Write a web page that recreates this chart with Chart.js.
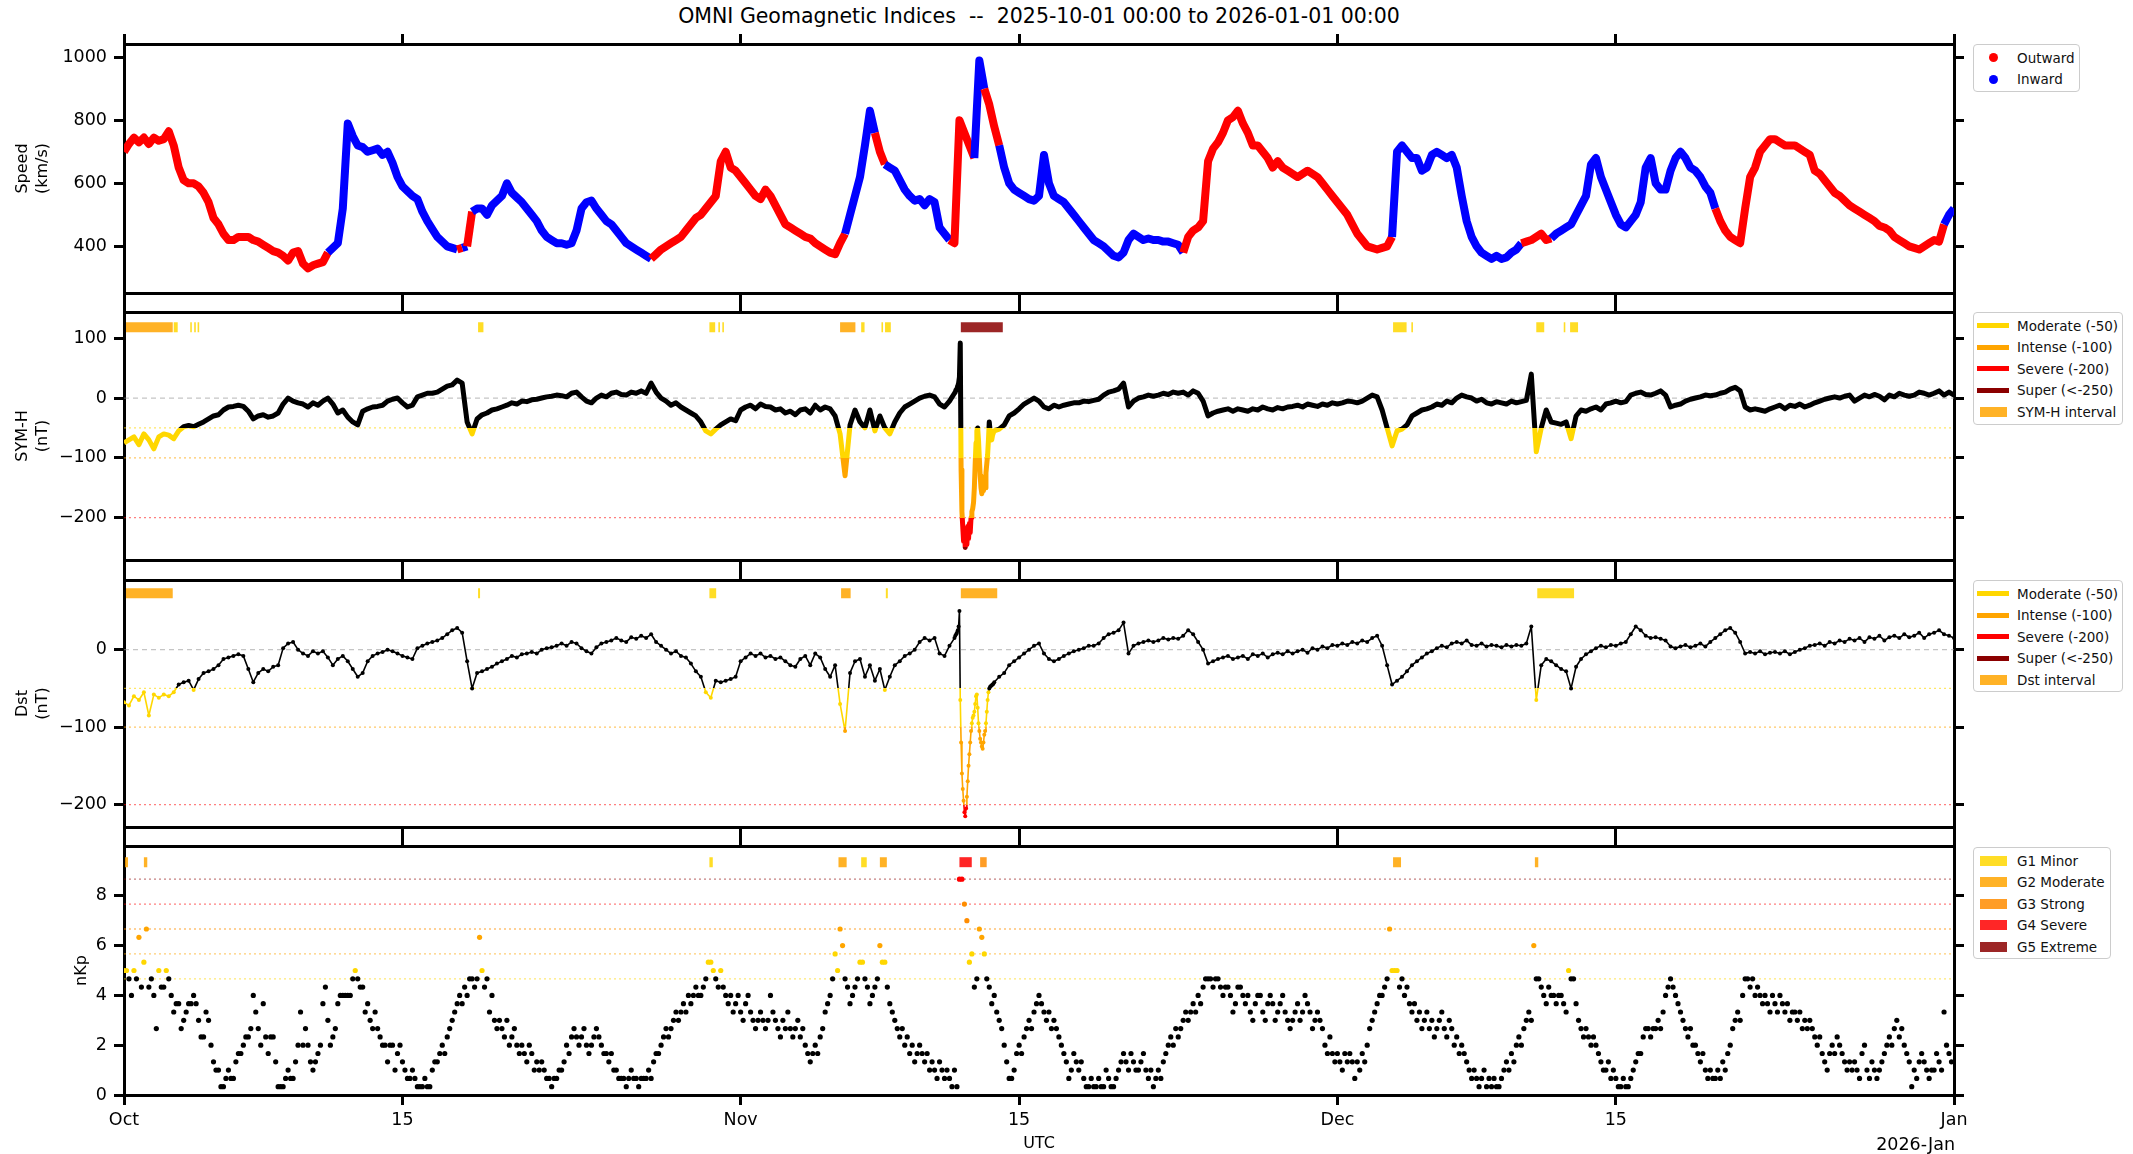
<!DOCTYPE html>
<html><head><meta charset="utf-8">
<script src="https://cdn.jsdelivr.net/npm/chart.js@4/dist/chart.umd.min.js"></script>
<style>
html,body{margin:0;padding:0;background:#fff;}
body{width:2133px;height:1154px;overflow:hidden;position:relative;font-family:"DejaVu Sans",sans-serif;color:#000;}
canvas{position:absolute;left:0;}
#title{position:absolute;left:1039px;top:4px;transform:translateX(-50%);font-size:20.5px;line-height:24px;white-space:pre;}
#yearlbl{position:absolute;right:178px;top:1134px;font-size:17.5px;line-height:20px;white-space:nowrap;}
.lg{position:absolute;left:1973px;border:1px solid #cccccc;border-radius:4px;background:#fff;font-size:13.5px;box-sizing:border-box;}
.row{position:absolute;left:0;height:20px;width:100%;}
.txt{position:absolute;left:43px;top:0;line-height:20px;white-space:nowrap;color:#111;}
.ln{position:absolute;left:3px;width:32px;height:5px;top:7.5px;}
.pt{position:absolute;left:6px;width:27px;height:10px;top:5px;}
.mk{position:absolute;left:15px;width:9px;height:9px;border-radius:50%;top:5.5px;}
</style></head><body>
<div id="title">OMNI Geomagnetic Indices  --  2025-10-01 00:00 to 2026-01-01 00:00</div>
<canvas id="c1"></canvas><canvas id="c2"></canvas><canvas id="c3"></canvas><canvas id="c4"></canvas>
<div id="yearlbl">2026-Jan</div>
<div id="legends"></div>
<script>
// ---------------- DATA ----------------
// time axis: days since 2025-10-01 00:00 UTC
const xTickDays = [0, 14, 31, 45, 61, 75, 92];
const xTickLabels = ['Oct', '15', 'Nov', '15', 'Dec', '15', 'Jan'];
const speedTicks = [400, 600, 800, 1000];
const symhTicks = [-200, -100, 0, 100];
const dstTicks = [-200, -100, 0];
const nkpTicks = [0, 2, 4, 6, 8];

// solar wind speed, km/s, every 6 hours
const speedKms = [
700,725,745,730, 745,725,745,735, 740,765,720,650, 610,600,600,590, 570,540,490,470,
440,420,420,430, 430,430,420,415, 405,395,385,380, 370,355,380,385, 345,330,340,345,
350,380,395,410, 520,790,750,720, 715,700,705,710, 690,700,665,620, 590,575,560,550,
510,480,455,430, 415,400,395,390, 395,400,510,520, 520,500,530,545, 560,600,570,555,
540,520,500,480, 450,430,420,410, 410,405,410,450, 520,540,545,520, 500,480,470,450,
430,410,400,390, 380,370,360,375, 390,400,410,420, 430,450,470,490, 500,520,540,560,
670,700,650,640, 620,600,580,560, 550,580,560,530, 500,470,460,450, 440,430,425,410,
400,390,380,375, 410,440,500,560, 620,720,830,760, 700,660,650,640, 610,580,560,545,
550,530,550,540, 460,440,420,410, 800,760,720,680, 990,900,850,780, 720,650,600,580,
570,560,550,545, 560,690,600,560, 550,540,520,500, 480,460,440,420, 410,400,385,370,
365,380,420,440, 430,420,425,420, 420,415,415,410, 405,380,430,450, 460,480,670,710,
730,760,800,810, 830,790,760,720, 720,700,680,650, 670,650,640,630, 620,630,640,630,
620,600,580,560, 540,520,500,470, 440,420,400,395, 390,395,400,430, 700,720,700,680,
680,640,650,690, 700,690,680,690, 650,560,480,430, 400,380,370,360, 370,360,365,380,
390,410,415,420, 430,440,420,425, 440,450,460,470, 500,530,560,660, 680,620,580,540,
500,470,460,480, 500,540,650,680, 600,580,580,640, 680,700,680,650, 640,620,590,570,
520,480,450,430, 420,410,520,620, 650,700,720,740, 740,730,720,720, 720,710,700,690,
640,630,610,590, 570,560,545,530, 520,510,500,490, 480,465,460,450, 430,420,410,400,
395,390,400,410, 420,415,470,500, 520];
// IMF sector polarity runs (O = Outward, I = Inward), counted in 6-hour samples
const speedPolarityRuns = [['O',41],['I',26],['O',1],['I',1],['O',1],['I',36],['O',39],['I',6],['O',2],['I',13],
  ['O',5],['I',2],['O',3],['I',37],['O',42],['I',26],['O',6],['I',33],['O',46],['I',3]];

// SYM-H, nT, every 6 hours
const symhNT = [
-75,-70,-65,-78, -60,-70,-85,-65, -60,-62,-68,-55, -48,-46,-48,-44, -40,-35,-30,-28,
-20,-15,-14,-12, -14,-22,-35,-30, -28,-32,-30,-25, -10,0,-5,-8, -10,-15,-8,-12,
-5,0,-10,-25, -20,-32,-40,-45, -22,-18,-15,-14, -12,-5,-2,0, -8,-15,-12,2,
5,8,8,10, 15,20,22,30, 25,-40,-60,-35, -28,-25,-20,-18, -15,-12,-8,-10,
-5,-6,-3,-2, 0,2,3,5, 4,2,8,10, 2,-5,-8,0, 5,2,8,10,
6,5,10,8, 12,8,25,10, 0,-5,-12,-8, -15,-20,-25,-30, -40,-55,-60,-52,
-45,-40,-35,-38, -20,-15,-12,-18, -10,-14,-15,-20, -18,-25,-22,-28, -20,-18,-25,-12,
-20,-15,-18,-30, -60,-130,-45,-20, -40,-50,-20,-55, -30,-50,-60,-40, -25,-15,-10,-5,
0,3,5,2, -10,-15,-5,5, 85,-220,-245,-150, -140,-150,-75,-55, -52,-45,-30,-25,
-18,-10,-5,0, -5,-15,-18,-12, -15,-12,-10,-8, -8,-5,-6,-4, -2,5,10,12,
15,25,-15,-5, 0,2,5,3, 5,8,6,10, 8,10,5,12, 8,-5,-30,-25,
-22,-20,-18,-22, -18,-20,-22,-18, -20,-15,-18,-20, -16,-18,-15,-14, -12,-15,-10,-12,
-14,-10,-12,-8, -10,-8,-5,-6, -8,-5,0,5, 2,-20,-50,-80, -55,-52,-45,-30,
-25,-20,-18,-15, -10,-12,-5,-8, 0,5,2,0, -5,-2,-8,-10, -6,-8,-10,-5,
-8,-6,-4,40, -90,-50,-20,-40, -42,-44,-40,-68, -30,-20,-22,-18, -15,-20,-10,-8,
-5,-8,-6,5, 8,10,6,5, 8,12,5,-15, -12,-10,-5,-2, 0,2,5,4,
5,8,10,15, 18,12,-15,-20, -18,-20,-22,-18, -15,-12,-18,-12, -14,-10,-15,-12,
-8,-5,-2,0, 2,0,3,5, -5,0,5,2, 6,3,-3,5, 2,8,5,3,
5,10,8,5, 8,12,5,10, 5];
// SYM-H, nT, hourly during the 12-13 Nov storm (starting at day 41.75)
const symhStormStart = 41.75;
const symhStormHourly = [8,10,14,16,20,25,35,92,-120,-190,-215,-240,-220,-250,-230,-245,-215,-235,-210,-225,
  -200,-190,-185,-175,-150,-110,-75,-55,-50,-70,-100,-130,-150,-160,-145,-155,-140,-150,-125,-110,
  -95,-70,-40,-55,-65,-70,-62,-58,-55];

// Dst, nT, every 6 hours
const dstNT = [
-68,-72,-60,-65, -55,-85,-58,-62, -58,-60,-55,-45, -42,-40,-52,-38, -30,-28,-25,-20,
-12,-10,-8,-6, -8,-25,-42,-30, -25,-28,-22,-20, 2,8,10,0, -5,-8,-2,-5,
-2,-10,-20,-12, -8,-15,-25,-35, -30,-15,-8,-5, -3,0,-2,-5, -8,-10,-12,2,
5,8,10,12, 15,20,25,28, 22,-15,-50,-30, -28,-25,-22,-18, -15,-12,-8,-10,
-6,-5,-3,-5, 0,2,3,5, 8,5,10,8, 2,-2,-5,3, 8,10,12,15,
12,10,16,14, 18,15,20,10, 5,0,-5,-2, -8,-10,-18,-28, -35,-55,-62,-40,
-42,-40,-38,-35, -15,-10,-5,-8, -5,-10,-8,-12, -10,-15,-20,-22, -12,-8,-20,-5,
-10,-25,-35,-20, -70,-105,-30,-15, -12,-35,-20,-40, -25,-52,-35,-20, -15,-8,-5,0,
10,15,12,15, -5,-8,5,15, 50,-205,-140,-85, -105,-125,-55,-45, -35,-30,-20,-15,
-10,-5,0,5, 8,-5,-12,-15, -12,-8,-5,-2, 0,2,5,5, 8,15,20,22,
25,35,-5,5, 8,10,12,10, 12,15,13,15, 14,18,25,20, 10,0,-18,-15,
-12,-10,-8,-12, -10,-8,-12,-6, -8,-5,-10,-6, -4,-6,-2,-5, -2,0,-4,2,
0,4,2,6, 5,8,6,10, 8,12,10,15, 18,5,-20,-45, -40,-35,-28,-20,
-15,-10,-5,-2, 2,5,3,8, 10,8,12,6, 5,8,4,6, 5,3,6,4,
6,5,8,30, -65,-20,-12,-15, -20,-25,-28,-50, -22,-12,-6,-2, 2,5,3,6,
5,8,10,20, 30,25,18,15, 16,14,12,4, 2,4,6,3, 5,8,4,10,
15,20,25,28, 22,10,-5,-3, -5,-2,-6,-4, -3,-5,-2,-6, -3,0,2,5,
6,8,5,10, 8,12,10,14, 12,15,10,16, 14,18,12,16, 18,15,20,16,
18,22,15,20, 22,25,20,18, 15];
// Dst, nT, hourly during the 12-13 Nov storm (starting at day 41.75)
const dstStormStart = 41.75;
const dstStormHourly = [15,18,20,22,25,30,50,-65,-120,-160,-180,-195,-210,-215,-205,-190,-170,-150,-135,-120,
  -105,-95,-88,-85,-80,-70,-60,-58,-75,-95,-105,-115,-120,-125,-128,-120,-110,-105,-95,-80,
  -65,-55,-50,-48,-47,-46,-45,-44,-42];

// nKp in thirds (value x 3), every 3 hours
const nkpThirds = [
15,15,14,12,15,14,19,13, 16,20,13,14,12,8,15,13, 13,15,14,12,10,11,11,8, 9,10,11,11,12,11,9,7,
7,10,9,6,4,3,3,1, 1,2,3,2,2,4,5,5, 6,7,7,8,12,10,8,6, 11,7,5,7,7,4,1,1,
1,2,3,2,2,4,6,10, 6,8,6,4,3,4,5,6, 11,13,9,6,7,8,11,12, 12,12,12,12,14,15,14,13,
13,10,11,9,8,10,8,7, 6,6,4,6,6,3,5,6, 4,3,2,2,3,2,1,1, 1,2,1,1,3,4,4,5,
6,5,7,8,9,10,11,12, 11,13,12,14,14,13,14,19, 15,13,14,10,12,9,8,9, 8,7,9,6,7,8,6,5,
6,5,4,6,5,3,4,3, 4,3,2,2,1,2,2,3, 3,4,6,5,7,8,7,6, 7,8,6,5,6,7,8,7,
6,5,5,4,5,3,3,2, 2,2,1,2,3,2,2,1, 2,2,2,3,2,4,5,5, 6,7,8,7,8,9,10,9,
10,11,10,12,11,12,13,12, 12,13,14,16,16,15,14,13, 15,13,12,11,12,10,11,12, 10,9,11,12,10,9,8,9,
10,9,8,9,12,10,9,8, 7,9,8,10,8,7,8,9, 7,8,6,5,4,5,6,5, 7,8,10,11,12,14,17,15,
20,18,14,13,11,12,13,14, 16,16,14,13,11,12,13,14, 18,16,16,13,11,10,9,8, 7,8,6,7,5,6,4,5,
6,5,4,5,3,4,3,2, 4,3,2,3,2,1,3,1, 26,26,23,21,16,17,13,14, 20,19,17,14,13,11,12,10,
9,8,6,4,2,2,3,5, 6,5,7,8,9,8,10,11, 12,11,10,9,10,8,9,8, 7,6,5,4,2,3,5,4,
3,4,2,1,1,2,1,1, 2,1,1,3,2,1,1,2, 3,4,5,4,3,5,4,3, 3,4,5,3,2,3,1,2,
3,2,4,5,6,7,6,8, 7,8,9,10,9,10,11,10, 12,11,13,14,14,14,13,14, 14,13,12,13,13,12,10,11,
13,13,12,11,12,10,9,11, 12,12,10,9,11,12,11,9, 10,11,12,10,9,8,9,10, 11,9,10,12,11,10,8,9,
10,9,8,6,5,7,5,4, 5,4,3,5,4,5,4,2, 4,3,5,4,6,8,9,10, 11,12,12,13,14,20,15,15,
15,13,14,12,13,11,10,11, 9,10,8,9,10,8,9,7, 8,9,10,8,7,9,8,6, 7,5,6,5,4,3,2,3,
2,1,2,3,1,2,1,2, 1,1,2,3,4,3,5,4, 6,7,6,8,9,10,9,18, 14,14,13,12,11,13,12,12,
11,12,12,11,10,15,14,14, 11,9,8,7,8,7,6,7, 6,5,4,3,3,4,2,3, 2,1,1,2,1,1,2,3,
4,5,5,7,8,8,7,8, 8,9,8,10,12,13,14,13, 12,11,10,9,8,7,8,6, 6,5,4,5,3,2,3,2,
2,3,2,4,3,5,6,8, 9,10,9,12,14,14,13,14, 12,13,12,11,12,11,10,12, 11,10,12,11,10,11,9,10,
10,9,10,8,9,8,9,8, 7,6,7,5,4,3,5,6, 5,7,6,5,4,3,4,3, 4,3,2,5,6,3,2,4,
3,2,3,4,5,6,7,6, 8,9,7,8,6,5,4,1, 3,2,4,5,4,3,2,3, 3,5,4,3,10,6,5,4];

// storm intervals [start day, end day, level]
const symhIntervals = [[0.1,2.45,'intense'],[2.5,2.7,'moderate'],[3.33,3.41,'moderate'],[3.53,3.61,'moderate'],[3.7,3.78,'moderate'],
  [17.8,18.07,'moderate'],[29.43,29.72,'moderate'],[29.88,29.96,'moderate'],[30.08,30.16,'moderate'],[36.0,36.77,'intense'],
  [37.06,37.23,'moderate'],[38.08,38.16,'moderate'],[38.26,38.55,'moderate'],[42.07,44.18,'super'],[63.8,64.48,'moderate'],
  [64.72,64.8,'moderate'],[71.0,71.4,'moderate'],[72.38,72.46,'moderate'],[72.7,73.1,'moderate']];
const dstIntervals = [[0.1,2.45,'intense'],[17.8,17.9,'moderate'],[29.43,29.77,'moderate'],[36.05,36.53,'intense'],
  [38.3,38.4,'moderate'],[42.07,43.9,'intense'],[71.05,72.9,'moderate']];
const nkpIntervals = [[0.05,0.2,'G2'],[1.0,1.17,'G2'],[29.43,29.6,'G1'],[35.92,36.33,'G2'],[37.06,37.34,'G1'],
  [38.0,38.35,'G2'],[42.0,42.62,'G4'],[43.04,43.37,'G3'],[63.8,64.2,'G2'],[70.93,71.1,'G2']];

// threshold reference levels
const stormLevels = [0, -50, -100, -200];
const nkpLevels = [4.667, 5.667, 6.667, 7.667, 8.667];

// ---------------- STYLE / BUILD ----------------
Chart.defaults.font.family = '"DejaVu Sans", sans-serif';
const LEVEL_FILL = {moderate:'rgba(255,215,0,0.85)', intense:'rgba(255,165,0,0.85)', severe:'rgba(255,0,0,0.85)', super:'rgba(139,0,0,0.85)',
  G1:'rgba(255,215,0,0.85)', G2:'rgba(255,165,0,0.85)', G3:'rgba(255,140,0,0.85)', G4:'rgba(255,0,0,0.85)', G5:'rgba(139,0,0,0.85)'};
const LEVEL_LINE = {'0':'rgba(150,150,150,0.55)', '-50':'rgba(255,215,0,0.6)', '-100':'rgba(255,165,0,0.6)', '-200':'rgba(255,0,0,0.5)'};
const KP_LINE = ['rgba(255,215,0,0.55)','rgba(255,165,0,0.55)','rgba(255,140,0,0.55)','rgba(255,0,0,0.5)','rgba(139,0,0,0.5)'];
const STORM_BANDS = [[-50,'#000000'],[-100,'#ffd700'],[-200,'#ffa500'],[-250,'#ff0000'],[-1e9,'#8b0000']];

function stormColor(v){ if(v < -250) return '#8b0000'; if(v < -200) return '#ff0000'; if(v < -100) return '#ffa500'; if(v < -50) return '#ffd700'; return '#000000'; }
function kpColor(t){ if(t >= 27) return '#8b0000'; if(t >= 24) return '#ff0000'; if(t >= 21) return '#ff8c00'; if(t >= 18) return '#ffa500'; if(t >= 15) return '#ffd700'; return '#000000'; }
function fmt(v){ return v < 0 ? '\u2212' + Math.abs(v) : String(v); }

// vertical gradient with hard stops at the storm thresholds: each part of the line is coloured by its own level
function stormGradient(context){
  const chart = context.chart, area = chart.chartArea, ys = chart.scales.y;
  if (!area || !ys) return '#000';
  const top = ys.getPixelForValue(ys.max), bot = ys.getPixelForValue(ys.min);
  const g = chart.ctx.createLinearGradient(0, top, 0, bot);
  let prev = 0;
  STORM_BANDS.forEach(([lim, col]) => {
    const f = Math.max(0, Math.min(1, (ys.getPixelForValue(Math.max(lim, ys.min)) - top) / (bot - top)));
    g.addColorStop(prev, col); g.addColorStop(f, col); prev = f;
  });
  return g;
}

const polarity = [];
speedPolarityRuns.forEach(([p, n]) => { for (let k = 0; k < n; k++) polarity.push(p); });

function series6h(arr){ return arr.map((v, i) => ({x: i * 0.25, y: v})); }
function withDetail(arr, start, hourly){
  const end = start + (hourly.length - 1) / 24;
  const base = series6h(arr).filter(p => p.x < start - 1e-6 || p.x > end + 1e-6);
  const det = hourly.map((v, k) => ({x: start + k / 24, y: v}));
  return base.concat(det).sort((a, b) => a.x - b.x);
}
function hLine(y, color, dash){ return {data:[{x:0,y:y},{x:92,y:y}], borderColor:color, borderDash:dash, borderWidth:1.3, pointRadius:0, order:5, xAxisID:'x', yAxisID:'y'}; }
function barSets(intervals, yv){
  const groups = {};
  intervals.forEach(([s, e, lvl]) => { (groups[lvl] = groups[lvl] || []).push({x:s,y:yv},{x:e,y:yv},{x:e,y:null}); });
  return Object.keys(groups).map(l => ({data:groups[l], borderColor:LEVEL_FILL[l], borderWidth:10, borderCapStyle:'butt',
    pointRadius:0, spanGaps:false, order:3, xAxisID:'x', yAxisID:'y'}));
}

const TICKFONT = {size:17.5};
function xScale(pos, labels, h, title){
  return {type:'linear', position:pos, min:0, max:92,
    afterBuildTicks: s => { s.ticks = xTickDays.map(v => ({value:v})); },
    afterFit: s => { s.height = h; },
    ticks:{display:labels, autoSkip:false, maxRotation:0, padding:5, color:'#000', font:TICKFONT, callback:(v, i) => xTickLabels[i]},
    grid:{drawOnChartArea:false, drawTicks:true, tickLength:10, tickWidth:3, lineWidth:3, tickColor:'#000', color:'#000'},
    border:{display:true, width:3, color:'#000'},
    title: title ? {display:true, text:title, color:'#000', font:{size:16, lineHeight:1.2}, padding:{top:0, bottom:0}} : {display:false}};
}
function yScale(pos, min, max, ticks, title, tpad){
  const main = pos === 'left';
  return {type:'linear', position:pos, min:min, max:max,
    afterBuildTicks: s => { s.ticks = ticks.map(v => ({value:v})); },
    afterFit: s => { s.width = main ? 124 : 10; },
    ticks:{display:main, padding:7, color:'#000', font:TICKFONT, callback: v => fmt(v)},
    grid:{drawOnChartArea:false, drawTicks:true, tickLength:10, tickWidth:3, lineWidth:3, tickColor:'#000', color:'#000'},
    border:{display:true, width:3, color:'#000'},
    title: main ? {display:true, text:title, color:'#000', font:{size:16, lineHeight:1.25}, padding:{top:tpad, bottom:0}} : {display:false}};
}
function makeChart(id, top, height, bottomPad, xh, xtitle, ymin, ymax, yticks, ytitle, tpad, datasets){
  const cv = document.getElementById(id);
  cv.width = 2133; cv.height = height; cv.style.top = top + 'px';
  return new Chart(cv, {type:'line', data:{datasets:datasets},
    options:{responsive:false, animation:false, devicePixelRatio:1,
      layout:{padding:{top:20, left:0, right:169, bottom:bottomPad}},
      plugins:{legend:{display:false}, tooltip:{enabled:false}},
      elements:{line:{tension:0}},
      scales:{x:xScale('bottom', xtitle !== null, xh, xtitle), x2:xScale('top', false, 10, null),
              y:yScale('left', ymin, ymax, yticks, ytitle, tpad), y2:yScale('right', ymin, ymax, yticks, '', 0)}}});
}

// Panel 1: speed
makeChart('c1', 14, 309, 20, 10, null, 252, 1042, speedTicks, ['Speed', '(km/s)'], 13, [
  {data:series6h(speedKms), borderWidth:8, borderJoinStyle:'round', pointRadius:0, borderColor:'#ff0000', order:1,
   segment:{borderColor: c => polarity[c.p0DataIndex] === 'O' ? '#ff0000' : '#0000ff'}, xAxisID:'x', yAxisID:'y'}
]);

function stormPanel(points, lineW, ptR, intervals, barY){
  const sets = [
    {data:points, borderWidth:lineW, pointRadius:ptR, pointBorderWidth:0, borderJoinStyle:'round',
     pointBackgroundColor: points.map(p => stormColor(p.y)), borderColor: stormGradient, order:1, xAxisID:'x', yAxisID:'y'}
  ];
  barSets(intervals, barY).forEach(d => sets.push(d));
  stormLevels.forEach(l => sets.push(hLine(l, LEVEL_LINE[String(l)], l === 0 ? [5, 4] : [2, 3])));
  return sets;
}
makeChart('c2', 282, 308, 20, 10, null, -271, 144, symhTicks, ['SYM-H', '(nT)'], 13,
  stormPanel(withDetail(symhNT, symhStormStart, symhStormHourly), 5, 0, symhIntervals, 118.5));
makeChart('c3', 550, 307, 20, 10, null, -229, 90, dstTicks, ['Dst', '(nT)'], 13,
  stormPanel(withDetail(dstNT, dstStormStart, dstStormHourly), 1.6, 2, dstIntervals, 73));

// Panel 4: nKp
const nkpSets = [
  {data:nkpThirds.map((t, i) => ({x:i * 0.125, y:t / 3})), showLine:false, pointRadius:2.6, pointBorderWidth:0,
   pointBackgroundColor:nkpThirds.map(kpColor), order:1, xAxisID:'x', yAxisID:'y'}
];
barSets(nkpIntervals, 9.35).forEach(d => nkpSets.push(d));
nkpLevels.forEach((l, i) => nkpSets.push(hLine(l, KP_LINE[i], [2, 3])));
makeChart('c4', 816, 338, 1, 58, 'UTC', 0, 10, nkpTicks, 'nKp', 72, nkpSets);

// ---------------- LEGENDS (HTML) ----------------
const legends = [
  {top:44, width:107, height:48, items:[['mk','#ff0000','Outward'],['mk','#0000ff','Inward']]},
  {top:312, width:150, height:113, items:[['ln','#ffd700','Moderate (-50)'],['ln','#ffa500','Intense (-100)'],['ln','#ff0000','Severe (-200)'],['ln','#8b0000','Super (<-250)'],['pt',LEVEL_FILL.intense,'SYM-H interval']]},
  {top:580, width:150, height:112, items:[['ln','#ffd700','Moderate (-50)'],['ln','#ffa500','Intense (-100)'],['ln','#ff0000','Severe (-200)'],['ln','#8b0000','Super (<-250)'],['pt',LEVEL_FILL.intense,'Dst interval']]},
  {top:847, width:138, height:112, items:[['pt',LEVEL_FILL.G1,'G1 Minor'],['pt',LEVEL_FILL.G2,'G2 Moderate'],['pt',LEVEL_FILL.G3,'G3 Strong'],['pt',LEVEL_FILL.G4,'G4 Severe'],['pt',LEVEL_FILL.G5,'G5 Extreme']]}
];
const host = document.getElementById('legends');
legends.forEach(L => {
  const box = document.createElement('div');
  box.className = 'lg';
  box.style.top = L.top + 'px'; box.style.width = L.width + 'px'; box.style.height = L.height + 'px';
  L.items.forEach((it, i) => {
    const r = document.createElement('div'); r.className = 'row'; r.style.top = (2.7 + i * 21.5) + 'px';
    const h = document.createElement('span'); h.className = it[0]; h.style.background = it[1];
    const t = document.createElement('span'); t.className = 'txt'; t.textContent = it[2];
    r.appendChild(h); r.appendChild(t); box.appendChild(r);
  });
  host.appendChild(box);
});
</script>
</body></html>
